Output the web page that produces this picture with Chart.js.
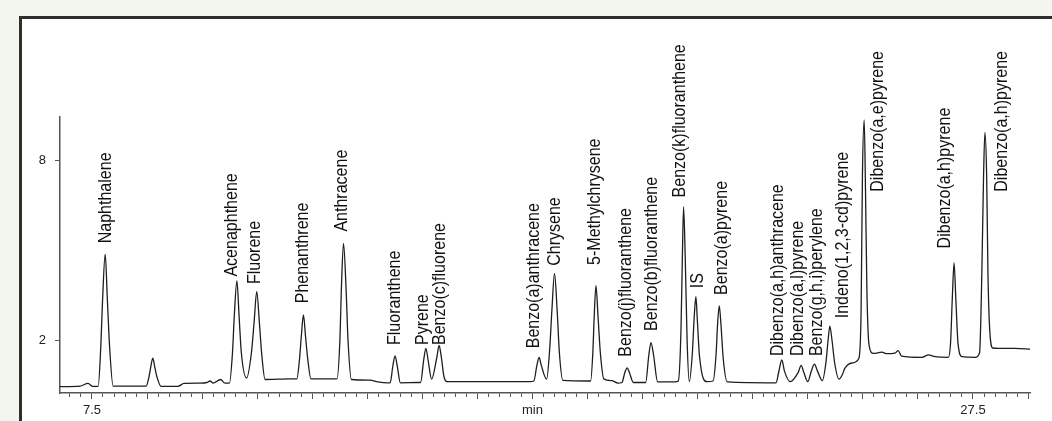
<!DOCTYPE html>
<html>
<head>
<meta charset="utf-8">
<script src="https://cdn.jsdelivr.net/npm/chart.js@4.4.0/dist/chart.umd.min.js"></script>
<style>
  html, body { margin: 0; padding: 0; background: #f3f6ee; overflow: hidden; }
  #frame { position: absolute; left: 19px; top: 16px; width: 1040px; height: 420px; border: 3px solid #2e2e2e; background: #fff; }
  #wrap { position: absolute; left: 0; top: 0; width: 1052px; height: 421px; }
</style>
</head>
<body>
<div id="frame"></div>
<div id="wrap"><canvas id="chromChart" width="1052" height="421"></canvas></div>
<script>
// Chromatogram trace (retention time in min, detector signal)
const traceTime = [
  6.77, 7.23, 7.41, 7.52,
  7.64, 7.70, 7.74, 7.80, 7.85, 7.90, 7.98,
  8.59, 8.73, 8.79, 8.83, 8.88, 8.93, 8.98, 9.07,
  9.45, 9.59, 9.95, 10.11, 10.18, 10.25, 10.42, 10.52,
  10.62, 10.69, 10.73, 10.79, 10.84, 10.89, 11.01,
  11.12, 11.18, 11.24, 11.30, 11.35, 11.43, 12.00,
  12.15, 12.21, 12.25, 12.30, 12.35, 12.40, 12.47, 12.90,
  13.06, 13.13, 13.16, 13.21, 13.27, 13.31, 13.39, 13.81, 13.99, 14.22,
  14.27, 14.33, 14.38, 14.43, 14.50, 14.90,
  14.96, 15.03, 15.08, 15.13, 15.21,
  15.33, 15.38, 15.43, 15.49, 15.56, 17.44,
  17.53, 17.60, 17.65, 17.70, 17.82,
  17.89, 17.94, 18.00, 18.06, 18.11, 18.19, 18.76,
  18.82, 18.87, 18.90, 18.94, 18.99, 19.04, 19.12, 19.30, 19.44,
  19.53, 19.60, 19.65, 19.70, 19.79, 19.99,
  20.07, 20.14, 20.19, 20.25, 20.34, 20.74,
  20.81, 20.87, 20.90, 20.93, 20.97, 21.01, 21.06,
  21.13, 21.17, 21.21, 21.24, 21.29, 21.46,
  21.60, 21.67, 21.70, 21.74, 21.78, 21.83, 21.92, 23.03,
  23.09, 23.16, 23.22, 23.35,
  23.53, 23.60, 23.66, 23.75,
  23.83, 23.90, 23.97, 24.08,
  24.16, 24.21, 24.25, 24.30, 24.36, 24.46, 24.53, 24.59, 24.75, 24.91,
  24.96, 24.99, 25.03, 25.06, 25.09, 25.14, 25.24, 25.43, 25.53, 25.73, 25.80, 25.88,
  26.34, 26.49, 26.64, 26.94,
  26.99, 27.03, 27.07, 27.11, 27.16, 27.25, 27.55,
  27.65, 27.70, 27.74, 27.77, 27.81, 27.84, 27.89, 27.95, 28.07, 28.45, 28.83
];
const traceSignal = [
  0.46, 0.48, 0.57, 0.47,
  0.47, 1.79, 3.34, 4.88, 3.34, 1.79, 0.48,
  0.48, 0.48, 0.76, 1.08, 1.41, 1.08, 0.76, 0.47,
  0.47, 0.57, 0.58, 0.60, 0.65, 0.58, 0.70, 0.58,
  0.58, 1.60, 2.80, 3.99, 2.80, 1.60, 0.75,
  1.60, 2.60, 3.63, 2.60, 1.60, 0.70, 0.72,
  0.72, 1.36, 2.10, 2.85, 2.10, 1.36, 0.72, 0.72,
  0.72, 2.08, 3.66, 5.24, 3.66, 2.08, 0.70, 0.68, 0.62, 0.59,
  0.59, 1.15, 1.49, 1.15, 0.59, 0.60,
  0.60, 1.35, 1.74, 1.35, 0.71,
  1.45, 1.84, 1.45, 0.80, 0.63, 0.63,
  0.65, 1.17, 1.44, 1.17, 0.71,
  1.70, 3.00, 4.24, 3.00, 1.60, 0.67, 0.65,
  0.65, 1.60, 2.75, 3.83, 2.75, 1.60, 0.72, 0.66, 0.58,
  0.60, 0.95, 1.09, 0.93, 0.60, 0.60,
  0.60, 1.50, 1.93, 1.50, 0.62, 0.62,
  0.65, 2.30, 4.60, 6.46, 4.60, 2.00, 0.63,
  1.60, 2.75, 3.46, 2.75, 1.50, 0.63,
  0.65, 1.60, 2.50, 3.15, 2.50, 1.40, 0.62, 0.59,
  0.95, 1.35, 0.98, 0.63,
  0.93, 1.17, 0.93, 0.63,
  0.98, 1.21, 0.98, 0.66,
  1.25, 2.00, 2.48, 2.00, 1.25, 0.71, 0.85, 1.07, 1.25, 1.41,
  3.00, 7.50, 9.35, 7.00, 3.80, 1.85, 1.57, 1.61, 1.56, 1.58, 1.66, 1.48,
  1.44, 1.52, 1.46, 1.44,
  1.90, 3.40, 4.59, 3.40, 1.90, 1.46, 1.44,
  1.60, 4.20, 7.50, 8.94, 7.50, 4.20, 2.13, 1.75, 1.74, 1.74, 1.71
];

// Peak annotations: name, time of label, signal where the label starts
const peakNames = [
  'Naphthalene', 'Acenaphthene', 'Fluorene', 'Phenanthrene', 'Anthracene',
  'Fluoranthene', 'Pyrene', 'Benzo(c)fluorene', 'Benzo(a)anthracene', 'Chrysene',
  '5-Methylchrysene', 'Benzo(j)fluoranthene', 'Benzo(b)fluoranthene', 'Benzo(k)fluoranthene', 'IS',
  'Benzo(a)pyrene', 'Dibenzo(a,h)anthracene', 'Dibenzo(a,l)pyrene', 'Benzo(g,h,i)perylene',
  'Indeno(1,2,3-cd)pyrene', 'Dibenzo(a,e)pyrene', 'Dibenzo(a,h)pyrene', 'Dibenzo(a,h)pyrene'
];
const labelTime = [
  7.83, 10.67, 11.20, 12.30, 13.18,
  14.38, 15.02, 15.40, 17.54, 18.01,
  18.93, 19.62, 20.21, 20.85, 21.26,
  21.80, 23.08, 23.53, 23.95,
  24.56, 25.35, 26.86, 28.16
];
const labelBase = [
  5.24, 4.13, 3.88, 3.24, 5.63,
  1.85, 1.85, 1.85, 1.74, 4.49,
  4.52, 1.46, 2.32, 6.77, 3.74,
  3.52, 1.48, 1.48, 1.48,
  2.74, 6.96, 5.07, 6.96
];

const xTickValues = [7.5, 17.5, 27.5];
const xTickTexts = ['7.5', 'min', '27.5'];
const yTickValues = [2, 8];

const FONT = '"Liberation Sans", Arial, sans-serif';
const isMajor = v => Math.round((v - 7.5) * 100) % 125 === 0;

const peakLabels = {
  id: 'peakLabels',
  afterDatasetsDraw(chart) {
    const { ctx, scales: { x, y } } = chart;
    ctx.save();
    ctx.fillStyle = '#111';
    ctx.font = '18px ' + FONT;
    ctx.textBaseline = 'middle';
    ctx.textAlign = 'left';
    peakNames.forEach((name, i) => {
      ctx.save();
      ctx.translate(x.getPixelForValue(labelTime[i]), y.getPixelForValue(labelBase[i]));
      ctx.rotate(-Math.PI / 2);
      ctx.scale(0.89, 1);
      ctx.fillText(name, 0, 0);
      ctx.restore();
    });
    ctx.restore();
  }
};

const ctx = document.getElementById('chromChart').getContext('2d');

new Chart(ctx, {
  type: 'line',
  data: {
    datasets: [{
      data: traceTime.map((t, i) => ({ x: t, y: traceSignal[i] })),
      borderColor: '#1e1e1e',
      borderWidth: 1.3,
      pointRadius: 0,
      fill: false,
      cubicInterpolationMode: 'monotone'
    }]
  },
  options: {
    responsive: false,
    animation: false,
    layout: { padding: { top: 117, right: 22, left: 0, bottom: 0 } },
    plugins: { legend: { display: false }, tooltip: { enabled: false } },
    scales: {
      x: {
        type: 'linear',
        min: 6.774,
        max: 28.794,
        afterBuildTicks: scale => {
          const ticks = [];
          for (let i = 0; i <= 88; i++) ticks.push({ value: 6.75 + 0.25 * i });
          scale.ticks = ticks.filter(t => t.value >= scale.min && t.value <= scale.max);
        },
        afterFit: scale => { scale.height = 28; },
        grid: {
          drawOnChartArea: false,
          tickLength: 6,
          tickColor: '#555',
          tickWidth: 1,
          tickBorderDash: c => (c.tick && isMajor(c.tick.value)) ? [] : [3.5, 20]
        },
        border: { display: true, color: '#555', width: 1.5 },
        ticks: {
          autoSkip: false,
          maxRotation: 0,
          padding: 4,
          color: '#222',
          font: { family: FONT, size: 13 },
          callback: v => {
            const i = xTickValues.findIndex(k => Math.abs(k - v) < 0.01);
            return i >= 0 ? xTickTexts[i] : '';
          }
        }
      },
      y: {
        min: 0.25,
        max: 9.45,
        afterBuildTicks: scale => { scale.ticks = yTickValues.map(v => ({ value: v })); },
        afterFit: scale => { scale.width = 60; },
        grid: { drawOnChartArea: false, tickLength: 5, tickColor: '#555' },
        border: { display: true, color: '#555', width: 1.5 },
        ticks: { padding: 9, color: '#222', font: { family: FONT, size: 13 } }
      }
    }
  },
  plugins: [peakLabels]
});
</script>
</body>
</html>
